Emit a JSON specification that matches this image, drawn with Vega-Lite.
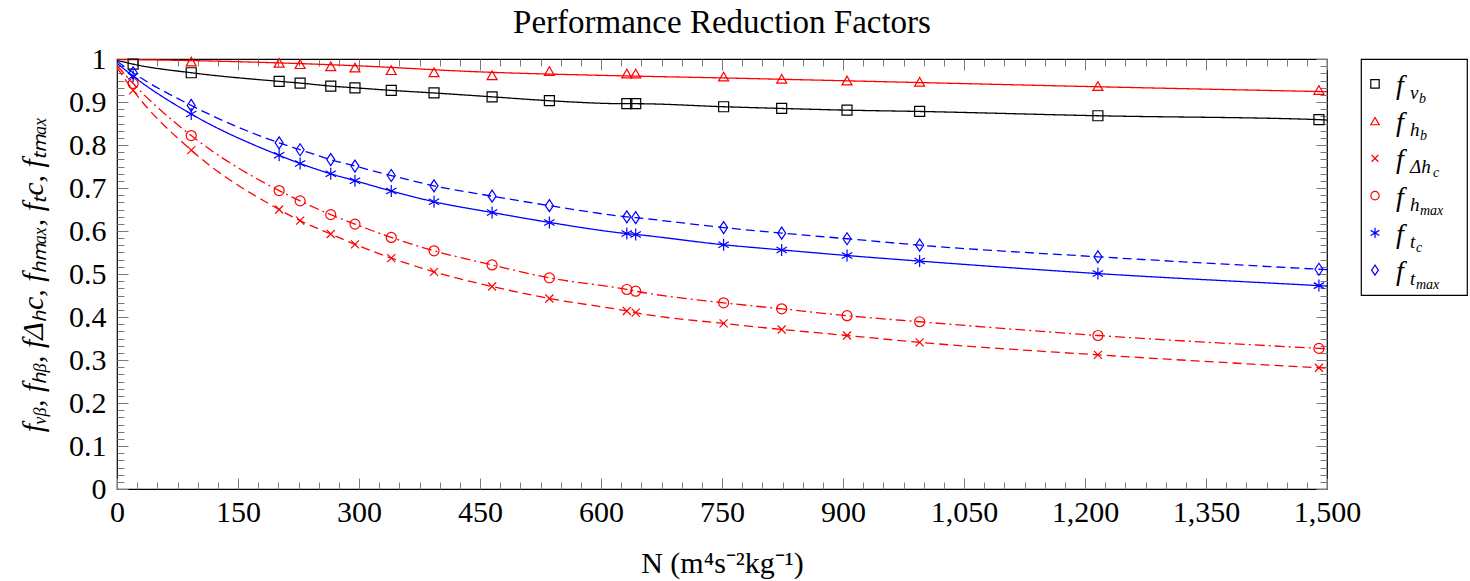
{
  "$schema": "https://vega.github.io/schema/vega-lite/v6.json",
  "padding": {"left": 17, "top": 6, "right": 0, "bottom": 0},
  "bounds": "flush",
  "spacing": 34,
  "background": "white",
  "config": {
    "view": {"stroke": "black", "strokeWidth": 1.2},
    "font": "Liberation Serif",
    "axis": {"labelFont": "Liberation Serif", "labelFontSize": 30, "labelColor": "black", "titleFont": "Liberation Serif", "titleFontSize": 30, "titleFontWeight": "normal", "titleColor": "black", "tickColor": "#7a7a7a", "tickWidth": 1, "domain": false, "grid": false, "labelOverlap": false, "labelFlush": false, "labelBound": false}
  },
  "datasets": {
    "pts": [
      {"s": "vb", "N": 0, "v": 0.997, "k": "c"},
      {"s": "vb", "N": 20, "v": 0.988, "k": "b"},
      {"s": "vb", "N": 92, "v": 0.968, "k": "b"},
      {"s": "vb", "N": 201, "v": 0.948, "k": "b"},
      {"s": "vb", "N": 227, "v": 0.944, "k": "b"},
      {"s": "vb", "N": 265, "v": 0.937, "k": "b"},
      {"s": "vb", "N": 295, "v": 0.933, "k": "b"},
      {"s": "vb", "N": 340, "v": 0.927, "k": "b"},
      {"s": "vb", "N": 393, "v": 0.921, "k": "b"},
      {"s": "vb", "N": 465, "v": 0.912, "k": "b"},
      {"s": "vb", "N": 536, "v": 0.903, "k": "b"},
      {"s": "vb", "N": 632, "v": 0.896, "k": "b"},
      {"s": "vb", "N": 643, "v": 0.896, "k": "b"},
      {"s": "vb", "N": 752, "v": 0.889, "k": "b"},
      {"s": "vb", "N": 824, "v": 0.885, "k": "b"},
      {"s": "vb", "N": 905, "v": 0.881, "k": "b"},
      {"s": "vb", "N": 995, "v": 0.878, "k": "b"},
      {"s": "vb", "N": 1216, "v": 0.868, "k": "b"},
      {"s": "vb", "N": 1490, "v": 0.859, "k": "b"},
      {"s": "vb", "N": 1500, "v": 0.858, "k": "c"},

      {"s": "hb", "N": 92, "v": 0.994, "k": "m"},
      {"s": "hb", "N": 201, "v": 0.991, "k": "m"},
      {"s": "hb", "N": 227, "v": 0.988, "k": "m"},
      {"s": "hb", "N": 265, "v": 0.983, "k": "m"},
      {"s": "hb", "N": 295, "v": 0.98, "k": "m"},
      {"s": "hb", "N": 340, "v": 0.974, "k": "m"},
      {"s": "hb", "N": 393, "v": 0.969, "k": "m"},
      {"s": "hb", "N": 465, "v": 0.962, "k": "m"},
      {"s": "hb", "N": 536, "v": 0.972, "k": "m"},
      {"s": "hb", "N": 632, "v": 0.966, "k": "m"},
      {"s": "hb", "N": 643, "v": 0.966, "k": "m"},
      {"s": "hb", "N": 752, "v": 0.959, "k": "m"},
      {"s": "hb", "N": 824, "v": 0.954, "k": "m"},
      {"s": "hb", "N": 905, "v": 0.95, "k": "m"},
      {"s": "hb", "N": 995, "v": 0.947, "k": "m"},
      {"s": "hb", "N": 1216, "v": 0.937, "k": "m"},
      {"s": "hb", "N": 1490, "v": 0.928, "k": "m"},
      {"s": "hb", "N": 0, "v": 0.999, "k": "c"},
      {"s": "hb", "N": 100, "v": 0.996, "k": "c"},
      {"s": "hb", "N": 200, "v": 0.991, "k": "c"},
      {"s": "hb", "N": 300, "v": 0.984, "k": "c"},
      {"s": "hb", "N": 450, "v": 0.97, "k": "c"},
      {"s": "hb", "N": 600, "v": 0.962, "k": "c"},
      {"s": "hb", "N": 750, "v": 0.956, "k": "c"},
      {"s": "hb", "N": 1000, "v": 0.945, "k": "c"},
      {"s": "hb", "N": 1250, "v": 0.934, "k": "c"},
      {"s": "hb", "N": 1500, "v": 0.924, "k": "c"},

      {"s": "dhc", "N": 0, "v": 0.98, "k": "c"},
      {"s": "dhc", "N": 20, "v": 0.927, "k": "b"},
      {"s": "dhc", "N": 92, "v": 0.788, "k": "b"},
      {"s": "dhc", "N": 201, "v": 0.65, "k": "b"},
      {"s": "dhc", "N": 227, "v": 0.624, "k": "b"},
      {"s": "dhc", "N": 265, "v": 0.593, "k": "b"},
      {"s": "dhc", "N": 295, "v": 0.569, "k": "b"},
      {"s": "dhc", "N": 340, "v": 0.537, "k": "b"},
      {"s": "dhc", "N": 393, "v": 0.505, "k": "b"},
      {"s": "dhc", "N": 465, "v": 0.471, "k": "b"},
      {"s": "dhc", "N": 536, "v": 0.443, "k": "b"},
      {"s": "dhc", "N": 632, "v": 0.414, "k": "b"},
      {"s": "dhc", "N": 643, "v": 0.41, "k": "b"},
      {"s": "dhc", "N": 752, "v": 0.385, "k": "b"},
      {"s": "dhc", "N": 824, "v": 0.371, "k": "b"},
      {"s": "dhc", "N": 905, "v": 0.357, "k": "b"},
      {"s": "dhc", "N": 995, "v": 0.341, "k": "b"},
      {"s": "dhc", "N": 1216, "v": 0.312, "k": "b"},
      {"s": "dhc", "N": 1490, "v": 0.282, "k": "b"},
      {"s": "dhc", "N": 1500, "v": 0.281, "k": "c"},

      {"s": "hmax", "N": 0, "v": 0.985, "k": "c"},
      {"s": "hmax", "N": 20, "v": 0.943, "k": "b"},
      {"s": "hmax", "N": 92, "v": 0.822, "k": "b"},
      {"s": "hmax", "N": 201, "v": 0.694, "k": "b"},
      {"s": "hmax", "N": 227, "v": 0.67, "k": "b"},
      {"s": "hmax", "N": 265, "v": 0.638, "k": "b"},
      {"s": "hmax", "N": 295, "v": 0.616, "k": "b"},
      {"s": "hmax", "N": 340, "v": 0.585, "k": "b"},
      {"s": "hmax", "N": 393, "v": 0.554, "k": "b"},
      {"s": "hmax", "N": 465, "v": 0.521, "k": "b"},
      {"s": "hmax", "N": 536, "v": 0.491, "k": "b"},
      {"s": "hmax", "N": 632, "v": 0.464, "k": "b"},
      {"s": "hmax", "N": 643, "v": 0.46, "k": "b"},
      {"s": "hmax", "N": 752, "v": 0.433, "k": "b"},
      {"s": "hmax", "N": 824, "v": 0.419, "k": "b"},
      {"s": "hmax", "N": 905, "v": 0.403, "k": "b"},
      {"s": "hmax", "N": 995, "v": 0.389, "k": "b"},
      {"s": "hmax", "N": 1216, "v": 0.357, "k": "b"},
      {"s": "hmax", "N": 1490, "v": 0.327, "k": "b"},
      {"s": "hmax", "N": 1500, "v": 0.326, "k": "c"},

      {"s": "tc", "N": 0, "v": 0.99, "k": "c"},
      {"s": "tc", "N": 20, "v": 0.96, "k": "b"},
      {"s": "tc", "N": 92, "v": 0.872, "k": "b"},
      {"s": "tc", "N": 201, "v": 0.776, "k": "b"},
      {"s": "tc", "N": 227, "v": 0.757, "k": "b"},
      {"s": "tc", "N": 265, "v": 0.733, "k": "b"},
      {"s": "tc", "N": 295, "v": 0.717, "k": "b"},
      {"s": "tc", "N": 340, "v": 0.693, "k": "b"},
      {"s": "tc", "N": 393, "v": 0.668, "k": "b"},
      {"s": "tc", "N": 465, "v": 0.643, "k": "b"},
      {"s": "tc", "N": 536, "v": 0.62, "k": "b"},
      {"s": "tc", "N": 632, "v": 0.594, "k": "b"},
      {"s": "tc", "N": 643, "v": 0.592, "k": "b"},
      {"s": "tc", "N": 752, "v": 0.568, "k": "b"},
      {"s": "tc", "N": 824, "v": 0.556, "k": "b"},
      {"s": "tc", "N": 905, "v": 0.543, "k": "b"},
      {"s": "tc", "N": 995, "v": 0.53, "k": "b"},
      {"s": "tc", "N": 1216, "v": 0.501, "k": "b"},
      {"s": "tc", "N": 1490, "v": 0.473, "k": "b"},
      {"s": "tc", "N": 1500, "v": 0.472, "k": "c"},

      {"s": "tmax", "N": 0, "v": 0.995, "k": "c"},
      {"s": "tmax", "N": 20, "v": 0.968, "k": "b"},
      {"s": "tmax", "N": 92, "v": 0.892, "k": "b"},
      {"s": "tmax", "N": 201, "v": 0.805, "k": "b"},
      {"s": "tmax", "N": 227, "v": 0.789, "k": "b"},
      {"s": "tmax", "N": 265, "v": 0.766, "k": "b"},
      {"s": "tmax", "N": 295, "v": 0.751, "k": "b"},
      {"s": "tmax", "N": 340, "v": 0.729, "k": "b"},
      {"s": "tmax", "N": 393, "v": 0.705, "k": "b"},
      {"s": "tmax", "N": 465, "v": 0.681, "k": "b"},
      {"s": "tmax", "N": 536, "v": 0.659, "k": "b"},
      {"s": "tmax", "N": 632, "v": 0.633, "k": "b"},
      {"s": "tmax", "N": 643, "v": 0.631, "k": "b"},
      {"s": "tmax", "N": 752, "v": 0.608, "k": "b"},
      {"s": "tmax", "N": 824, "v": 0.595, "k": "b"},
      {"s": "tmax", "N": 905, "v": 0.582, "k": "b"},
      {"s": "tmax", "N": 995, "v": 0.567, "k": "b"},
      {"s": "tmax", "N": 1216, "v": 0.54, "k": "b"},
      {"s": "tmax", "N": 1490, "v": 0.511, "k": "b"},
      {"s": "tmax", "N": 1500, "v": 0.51, "k": "c"}
    ],
    "leg": [
      {"s": "vb", "a": "v", "b": "b"},
      {"s": "hb", "a": "h", "b": "b"},
      {"s": "dhc", "a": "Δh", "b": "c"},
      {"s": "hmax", "a": "h", "b": "max"},
      {"s": "tc", "a": "t", "b": "c"},
      {"s": "tmax", "a": "t", "b": "max"}
    ]
  },
  "hconcat": [
    {
      "width": 1210,
      "height": 430,
      "title": {"text": "Performance Reduction Factors", "font": "Liberation Serif", "fontSize": 33, "fontWeight": "normal", "color": "black", "offset": 4},
      "data": {"name": "pts"},
      "layer": [
        {
          "transform": [{"filter": "datum.k !== 'm'"}],
          "mark": {"type": "line", "interpolate": "monotone", "strokeWidth": 1.3, "clip": true},
          "encoding": {
            "x": {"field": "N", "type": "quantitative", "scale": {"domain": [0, 1500], "nice": false, "zero": false},
              "axis": {"orient": "bottom", "title": "N (m⁴s⁻²kg⁻¹)", "titlePadding": 17, "labelFont": "Liberation Serif",
                "values": [0,25,50,75,100,125,150,175,200,225,250,275,300,325,350,375,400,425,450,475,500,525,550,575,600,625,650,675,700,725,750,775,800,825,850,875,900,925,950,975,1000,1025,1050,1075,1100,1125,1150,1175,1200,1225,1250,1275,1300,1325,1350,1375,1400,1425,1450,1475,1500],
                "labelExpr": "datum.value % 150 === 0 ? format(datum.value, ',') : ''",
                "tickSize": {"condition": {"test": "datum.value % 150 === 0", "value": -11}, "value": -7},
                "labelPadding": 19}},
            "y": {"field": "v", "type": "quantitative", "scale": {"domain": [0, 1], "nice": false, "zero": false},
              "axis": {"orient": "left", "title": "fᵥᵦ, fₕᵦ, fΔₕc, fₕₘₐₓ, fₜc, fₜₘₐₓ", "titleFontStyle": "italic", "titleFontSize": 30, "titlePadding": 20, "labelFont": "Liberation Serif",
                "values": [0,0.01667,0.03333,0.05,0.06667,0.08333,0.1,0.11667,0.13333,0.15,0.16667,0.18333,0.2,0.21667,0.23333,0.25,0.26667,0.28333,0.3,0.31667,0.33333,0.35,0.36667,0.38333,0.4,0.41667,0.43333,0.45,0.46667,0.48333,0.5,0.51667,0.53333,0.55,0.56667,0.58333,0.6,0.61667,0.63333,0.65,0.66667,0.68333,0.7,0.71667,0.73333,0.75,0.76667,0.78333,0.8,0.81667,0.83333,0.85,0.86667,0.88333,0.9,0.91667,0.93333,0.95,0.96667,0.98333,1],
                "labelExpr": "abs(datum.value * 10 - round(datum.value * 10)) < 0.0001 ? format(datum.value, '~g') : ''",
                "tickSize": {"condition": {"test": "abs(datum.value * 10 - round(datum.value * 10)) < 0.0001", "value": -11}, "value": -7},
                "labelPadding": 22}},
            "color": {"field": "s", "type": "nominal", "scale": {"domain": ["vb", "hb", "dhc", "hmax", "tc", "tmax"], "range": ["black", "red", "red", "red", "blue", "blue"]}, "legend": null},
            "strokeDash": {"field": "s", "type": "nominal", "scale": {"domain": ["vb", "hb", "dhc", "hmax", "tc", "tmax"], "range": [[1, 0], [1, 0], [9, 5], [10, 4, 2, 4], [1, 0], [9, 5]]}, "legend": null}
          }
        },
        {
          "transform": [{"filter": "datum.k !== 'c'"}],
          "mark": {"type": "point", "filled": false, "size": 100, "strokeWidth": 1.2, "opacity": 1},
          "encoding": {
            "x": {"field": "N", "type": "quantitative", "scale": {"domain": [0, 1500], "nice": false, "zero": false},
              "axis": {"orient": "top", "title": null, "labels": false,
                "values": [0,25,50,75,100,125,150,175,200,225,250,275,300,325,350,375,400,425,450,475,500,525,550,575,600,625,650,675,700,725,750,775,800,825,850,875,900,925,950,975,1000,1025,1050,1075,1100,1125,1150,1175,1200,1225,1250,1275,1300,1325,1350,1375,1400,1425,1450,1475,1500],
                "tickSize": {"condition": {"test": "datum.value % 150 === 0", "value": -11}, "value": -7}}},
            "y": {"field": "v", "type": "quantitative", "scale": {"domain": [0, 1], "nice": false, "zero": false},
              "axis": {"orient": "right", "title": null, "labels": false,
                "values": [0,0.01667,0.03333,0.05,0.06667,0.08333,0.1,0.11667,0.13333,0.15,0.16667,0.18333,0.2,0.21667,0.23333,0.25,0.26667,0.28333,0.3,0.31667,0.33333,0.35,0.36667,0.38333,0.4,0.41667,0.43333,0.45,0.46667,0.48333,0.5,0.51667,0.53333,0.55,0.56667,0.58333,0.6,0.61667,0.63333,0.65,0.66667,0.68333,0.7,0.71667,0.73333,0.75,0.76667,0.78333,0.8,0.81667,0.83333,0.85,0.86667,0.88333,0.9,0.91667,0.93333,0.95,0.96667,0.98333,1],
                "tickSize": {"condition": {"test": "abs(datum.value * 10 - round(datum.value * 10)) < 0.0001", "value": -11}, "value": -7}}},
            "color": {"field": "s", "type": "nominal", "scale": {"domain": ["vb", "hb", "dhc", "hmax", "tc", "tmax"], "range": ["black", "red", "red", "red", "blue", "blue"]}, "legend": null},
            "shape": {"field": "s", "type": "nominal", "scale": {"domain": ["vb", "hb", "dhc", "hmax", "tc", "tmax"], "range": ["square", "triangle-up", "M-0.8,-0.8L0.8,0.8M-0.8,0.8L0.8,-0.8", "circle", "M0,-1.2L0,1.2M-1.04,-0.6L1.04,0.6M-1.04,0.6L1.04,-0.6", "M0,-1.2L0.8,0L0,1.2L-0.8,0Z"]}, "legend": null}
          }
        }
      ],
      "resolve": {"axis": {"x": "independent", "y": "independent"}}
    },
    {
      "width": 106,
      "height": 236,
      "data": {"name": "leg"},
      "encoding": {
        "x": {"datum": 0, "type": "quantitative", "scale": {"domain": [0, 1]}, "axis": null},
        "y": {"field": "s", "type": "nominal", "sort": ["vb", "hb", "dhc", "hmax", "tc", "tmax"], "scale": {"type": "point", "padding": 0.667}, "axis": null}
      },
      "layer": [
        {
          "mark": {"type": "point", "filled": false, "size": 70, "strokeWidth": 1.2, "opacity": 1, "xOffset": 14},
          "encoding": {
            "color": {"field": "s", "type": "nominal", "scale": {"domain": ["vb", "hb", "dhc", "hmax", "tc", "tmax"], "range": ["black", "red", "red", "red", "blue", "blue"]}, "legend": null},
            "shape": {"field": "s", "type": "nominal", "scale": {"domain": ["vb", "hb", "dhc", "hmax", "tc", "tmax"], "range": ["square", "triangle-up", "M-0.8,-0.8L0.8,0.8M-0.8,0.8L0.8,-0.8", "circle", "M0,-1.2L0,1.2M-1.04,-0.6L1.04,0.6M-1.04,0.6L1.04,-0.6", "M0,-1.2L0.8,0L0,1.2L-0.8,0Z"]}, "legend": null}
          }
        },
        {
          "mark": {"type": "text", "align": "left", "baseline": "alphabetic", "dx": 35, "dy": 10, "fontSize": 28, "fontStyle": "italic", "font": "Liberation Serif", "color": "black"},
          "encoding": {"text": {"value": "f"}}
        },
        {
          "mark": {"type": "text", "align": "left", "baseline": "alphabetic", "dx": 49, "dy": 15, "fontSize": 19, "fontStyle": "italic", "font": "Liberation Serif", "color": "black"},
          "encoding": {"text": {"field": "a"}}
        },
        {
          "transform": [{"filter": "datum.a === 'v'"}],
          "mark": {"type": "text", "align": "left", "baseline": "alphabetic", "dx": 58, "dy": 19, "fontSize": 14, "fontStyle": "italic", "font": "Liberation Serif", "color": "black"},
          "encoding": {"text": {"field": "b"}}
        },
        {
          "transform": [{"filter": "datum.a === 'h'"}],
          "mark": {"type": "text", "align": "left", "baseline": "alphabetic", "dx": 59, "dy": 19, "fontSize": 14, "fontStyle": "italic", "font": "Liberation Serif", "color": "black"},
          "encoding": {"text": {"field": "b"}}
        },
        {
          "transform": [{"filter": "datum.a === 'Δh'"}],
          "mark": {"type": "text", "align": "left", "baseline": "alphabetic", "dx": 72, "dy": 19, "fontSize": 14, "fontStyle": "italic", "font": "Liberation Serif", "color": "black"},
          "encoding": {"text": {"field": "b"}}
        },
        {
          "transform": [{"filter": "datum.a === 't'"}],
          "mark": {"type": "text", "align": "left", "baseline": "alphabetic", "dx": 55, "dy": 19, "fontSize": 14, "fontStyle": "italic", "font": "Liberation Serif", "color": "black"},
          "encoding": {"text": {"field": "b"}}
        }
      ]
    }
  ]
}
